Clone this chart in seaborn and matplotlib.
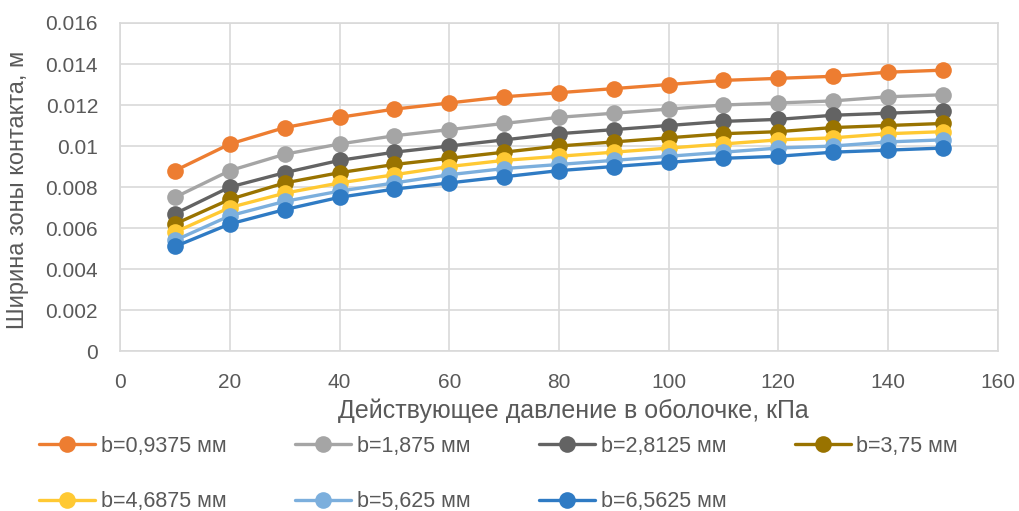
import matplotlib.pyplot as plt
import pandas as pd
import seaborn as sns

# pressure values, kPa
pressure = [10, 20, 30, 40, 50, 60, 70, 80, 90, 100, 110, 120, 130, 140, 150]

# contact zone width, m
b_09375 = [0.0088, 0.0101, 0.0109, 0.0114, 0.0118, 0.0121, 0.0124, 0.0126, 0.0128, 0.0130, 0.0132, 0.0133, 0.0134, 0.0136, 0.0137]
b_1875 = [0.0075, 0.0088, 0.0096, 0.0101, 0.0105, 0.0108, 0.0111, 0.0114, 0.0116, 0.0118, 0.0120, 0.0121, 0.0122, 0.0124, 0.0125]
b_28125 = [0.0067, 0.0080, 0.0087, 0.0093, 0.0097, 0.0100, 0.0103, 0.0106, 0.0108, 0.0110, 0.0112, 0.0113, 0.0115, 0.0116, 0.0117]
b_375 = [0.0062, 0.0074, 0.0082, 0.0087, 0.0091, 0.0094, 0.0097, 0.0100, 0.0102, 0.0104, 0.0106, 0.0107, 0.0109, 0.0110, 0.0111]
b_46875 = [0.0058, 0.0070, 0.0077, 0.0082, 0.0086, 0.0090, 0.0093, 0.0095, 0.0097, 0.0099, 0.0101, 0.0103, 0.0104, 0.0106, 0.0107]
b_5625 = [0.0054, 0.0066, 0.0073, 0.0078, 0.0082, 0.0086, 0.0089, 0.0091, 0.0093, 0.0095, 0.0097, 0.0099, 0.0100, 0.0102, 0.0103]
b_65625 = [0.0051, 0.0062, 0.0069, 0.0075, 0.0079, 0.0082, 0.0085, 0.0088, 0.0090, 0.0092, 0.0094, 0.0095, 0.0097, 0.0098, 0.0099]

series_names = ['b=0,9375 мм', 'b=1,875 мм', 'b=2,8125 мм', 'b=3,75 мм',
                'b=4,6875 мм', 'b=5,625 мм', 'b=6,5625 мм']
series_values = [b_09375, b_1875, b_28125, b_375, b_46875, b_5625, b_65625]
colors = ['#ED7D31', '#A5A5A5', '#636363', '#997300', '#FFC933', '#7CAFDD', '#2F7BC4']

# long-form table for seaborn
rows = []
for name, vals in zip(series_names, series_values):
    for p, v in zip(pressure, vals):
        rows.append({'p': p, 'w': v, 'series': name})
df = pd.DataFrame(rows)

sns.set_style('whitegrid')
plt.rcParams['font.family'] = ['Liberation Sans', 'DejaVu Sans']
text_color = '#595959'

fig = plt.figure(figsize=(10.19, 5.11), dpi=100)
ax = fig.add_axes([0.118, 0.313, 0.861, 0.642])

sns.lineplot(data=df, x='p', y='w', hue='series', hue_order=series_names,
             palette=colors, marker='o', markersize=12, markeredgewidth=0,
             linewidth=2.4, ax=ax)

ax.set_xlim(0, 160)
ax.set_ylim(0, 0.016)
ax.set_xticks(range(0, 161, 20))
ax.set_yticks([i * 0.002 for i in range(9)])
ax.set_yticklabels(['0', '0.002', '0.004', '0.006', '0.008', '0.01', '0.012', '0.014', '0.016'])
ax.grid(True, color='#D9D9D9', linewidth=1.2)
for s in ax.spines.values():
    s.set_color('#D9D9D9')
    s.set_linewidth(1.2)
ax.tick_params(axis='both', colors=text_color, labelsize=15, length=0, pad=16)

ax.set_xlabel('Действующее давление в оболочке, кПа', fontsize=18, color=text_color)
ax.set_ylabel('Ширина зоны контакта, м', fontsize=17, color=text_color)
ax.xaxis.set_label_coords(0.516, -0.146)
ax.yaxis.set_label_coords(-0.104, 0.49)

# legend reads row by row in the reference
handles, labels = ax.get_legend_handles_labels()
ax.legend_.remove()
order = [0, 4, 1, 5, 2, 6, 3]
leg = fig.legend([handles[i] for i in order], [labels[i] for i in order],
                 loc='upper left', bbox_to_anchor=(0.026, 0.172),
                 ncol=4, frameon=False, fontsize=15.5, handlelength=2.6,
                 columnspacing=3.2, labelspacing=1.6, handletextpad=0.25,
                 borderaxespad=0.2)
for t in leg.get_texts():
    t.set_color(text_color)

fig.savefig('out.png', dpi=100)
